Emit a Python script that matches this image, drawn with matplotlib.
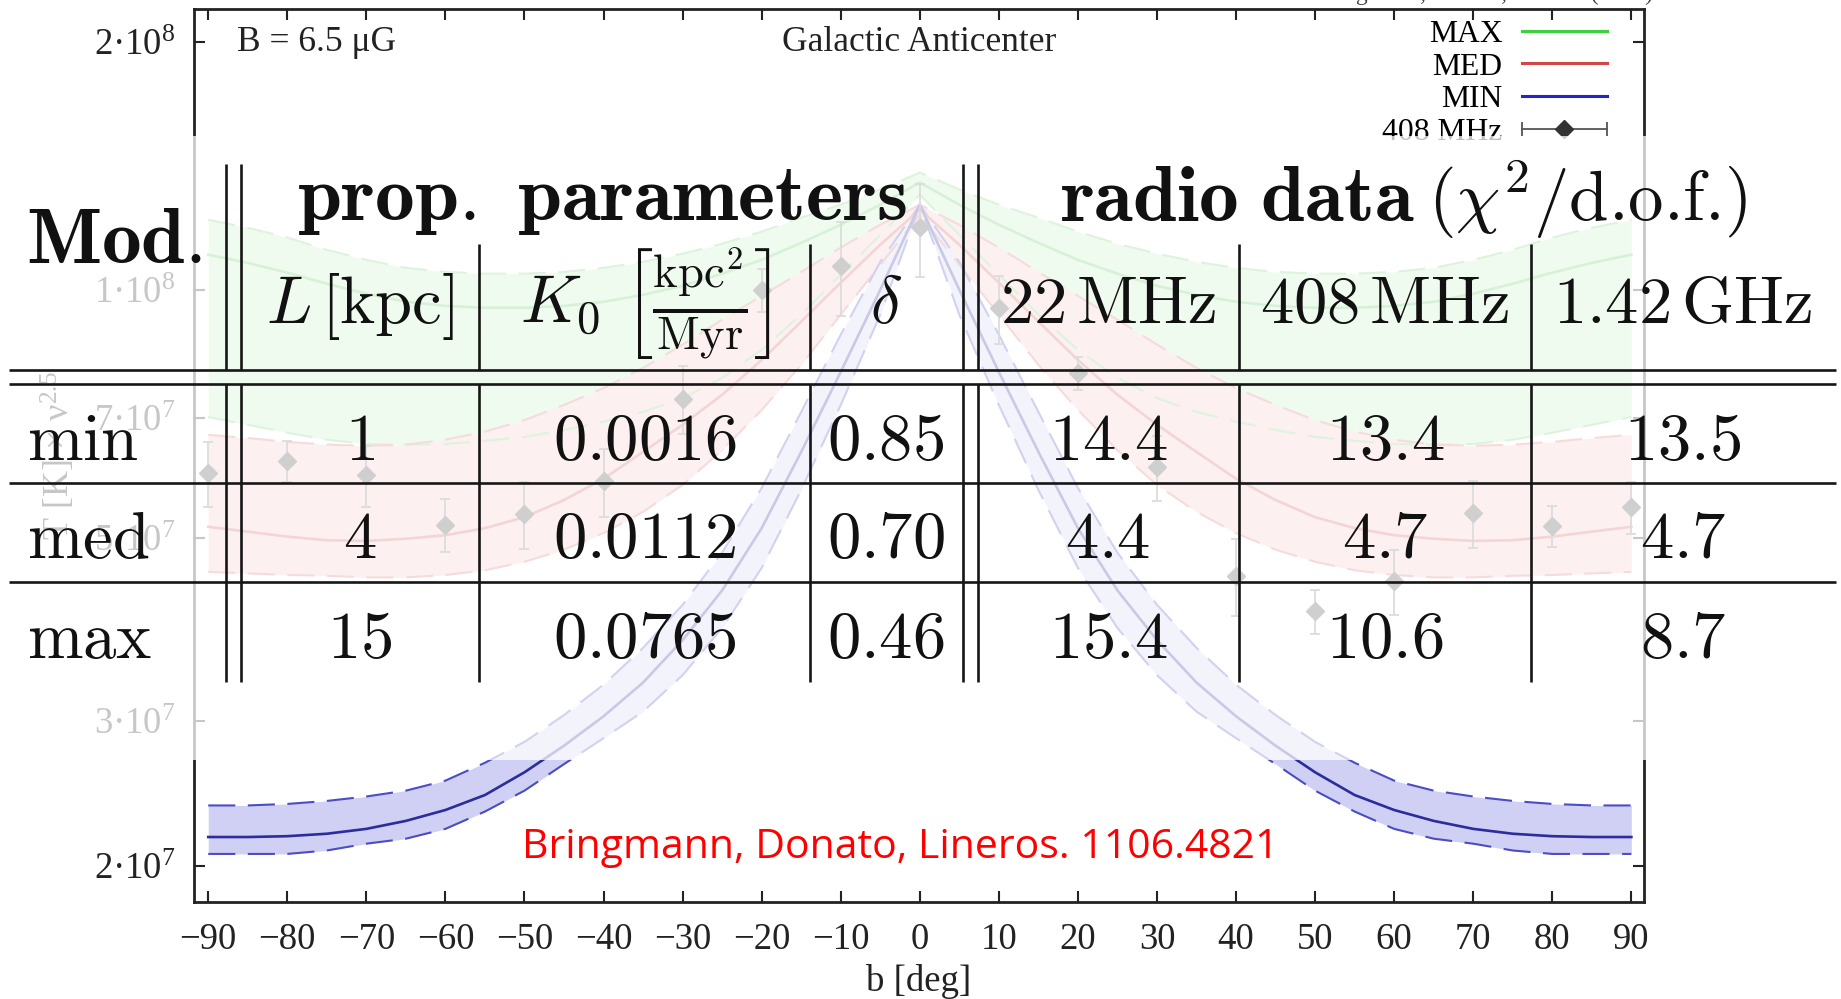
import numpy as np
import matplotlib.pyplot as plt
from matplotlib.lines import Line2D
from matplotlib.patches import Rectangle
from matplotlib.ticker import NullLocator
from matplotlib.legend_handler import HandlerLine2D, HandlerTuple

plt.rcParams['font.family'] = ['Liberation Serif', 'DejaVu Serif']
plt.rcParams['mathtext.fontset'] = 'custom'
plt.rcParams['mathtext.rm'] = 'Liberation Serif'
plt.rcParams['mathtext.it'] = 'Liberation Serif:italic'

# galactic latitude of the model curves [deg]
b = [-90, -85, -80, -75, -70, -65, -60, -55, -50, -45, -40, -35, -30, -25, -20, -15, -10, -5, 0,
     5, 10, 15, 20, 25, 30, 35, 40, 45, 50, 55, 60, 65, 70, 75, 80, 85, 90]

# model bands, T * nu^2.5 in units of 1e7
max_hi = [12.16, 11.89, 11.57, 11.18, 10.87, 10.63, 10.51, 10.46, 10.46, 10.51, 10.63, 10.81, 11.06, 11.37, 11.76, 12.23, 12.68, 13.23, 13.87,
          13.23, 12.68, 12.23, 11.76, 11.37, 11.06, 10.81, 10.63, 10.51, 10.46, 10.46, 10.51, 10.63, 10.87, 11.18, 11.57, 11.89, 12.16]
max_mid = [11.03, 10.78, 10.49, 10.17, 9.89, 9.67, 9.56, 9.51, 9.51, 9.56, 9.67, 9.86, 10.11, 10.46, 10.87, 11.40, 11.99, 12.68, 13.49,
           12.68, 11.99, 11.40, 10.87, 10.46, 10.11, 9.86, 9.67, 9.56, 9.51, 9.51, 9.56, 9.67, 9.89, 10.17, 10.49, 10.78, 11.03]
max_lo = [7.01, 6.86, 6.71, 6.58, 6.50, 6.49, 6.50, 6.56, 6.63, 6.76, 6.92, 7.11, 7.39, 7.82, 8.46, 9.33, 10.43, 11.66, 13.04,
          11.66, 10.43, 9.33, 8.46, 7.82, 7.39, 7.11, 6.92, 6.76, 6.63, 6.56, 6.50, 6.49, 6.50, 6.58, 6.71, 6.86, 7.01]

med_hi = [6.67, 6.61, 6.54, 6.49, 6.47, 6.49, 6.58, 6.73, 6.95, 7.25, 7.60, 8.04, 8.58, 9.20, 9.83, 10.51, 11.25, 11.99, 12.68,
          11.99, 11.25, 10.51, 9.83, 9.20, 8.58, 8.04, 7.60, 7.25, 6.95, 6.73, 6.58, 6.49, 6.47, 6.49, 6.54, 6.61, 6.67]
med_mid = [5.16, 5.09, 5.02, 4.97, 4.96, 4.99, 5.04, 5.14, 5.30, 5.56, 5.90, 6.36, 6.86, 7.46, 8.22, 9.15, 10.20, 11.34, 12.51,
           11.34, 10.20, 9.15, 8.22, 7.46, 6.86, 6.36, 5.90, 5.56, 5.30, 5.14, 5.04, 4.99, 4.96, 4.97, 5.02, 5.09, 5.16]
med_lo = [4.55, 4.53, 4.51, 4.50, 4.48, 4.48, 4.51, 4.57, 4.68, 4.84, 5.07, 5.38, 5.80, 6.39, 7.15, 8.11, 9.33, 10.72, 12.33,
          10.72, 9.33, 8.11, 7.15, 6.39, 5.80, 5.38, 5.07, 4.84, 4.68, 4.57, 4.51, 4.48, 4.48, 4.50, 4.51, 4.53, 4.55]

min_hi = [2.37, 2.37, 2.38, 2.40, 2.43, 2.47, 2.54, 2.67, 2.83, 3.05, 3.32, 3.68, 4.15, 4.80, 5.75, 7.11, 8.82, 10.81, 12.68,
          10.81, 8.82, 7.11, 5.75, 4.80, 4.15, 3.68, 3.32, 3.05, 2.83, 2.67, 2.54, 2.47, 2.43, 2.40, 2.38, 2.37, 2.37]
min_mid = [2.17, 2.17, 2.175, 2.19, 2.22, 2.27, 2.34, 2.44, 2.60, 2.80, 3.04, 3.34, 3.76, 4.32, 5.14, 6.36, 7.95, 10.0, 12.68,
           10.0, 7.95, 6.36, 5.14, 4.32, 3.76, 3.34, 3.04, 2.80, 2.60, 2.44, 2.34, 2.27, 2.22, 2.19, 2.175, 2.17, 2.17]
min_lo = [2.07, 2.07, 2.07, 2.09, 2.13, 2.16, 2.22, 2.33, 2.47, 2.66, 2.86, 3.08, 3.41, 3.89, 4.60, 5.72, 7.25, 9.33, 12.68,
          9.33, 7.25, 5.72, 4.60, 3.89, 3.41, 3.08, 2.86, 2.66, 2.47, 2.33, 2.22, 2.16, 2.13, 2.09, 2.07, 2.07, 2.07]

# 408 MHz data points (units of 1e7)
b_data = [-90, -80, -70, -60, -50, -40, -30, -20, -10, 0, 10, 20, 30, 40, 50, 60, 70, 80, 90]
t408 = [6.0, 6.2, 5.96, 5.19, 5.35, 5.86, 7.38, 10.0, 10.7, 11.9, 9.5, 7.93, 6.1, 4.5, 4.08, 4.43, 5.36, 5.17, 5.45]
t408_err = [0.54, 0.35, 0.5, 0.38, 0.5, 0.55, 0.7, 0.6, 1.4, 1.55, 0.9, 0.37, 0.55, 0.48, 0.25, 0.4, 0.5, 0.3, 0.4]

y_ticks = [2e7, 3e7, 5e7, 7e7, 1e8, 2e8]
y_ticklabels = ['2·10$^{7}$', '3·10$^{7}$', '5·10$^{7}$', '7·10$^{7}$', '1·10$^{8}$', '2·10$^{8}$']
x_ticks = [-90, -80, -70, -60, -50, -40, -30, -20, -10, 0, 10, 20, 30, 40, 50, 60, 70, 80, 90]

# table overlay content
tab_models = ['min', 'med', 'max']
tab_L = ['1', '4', '15']
tab_K0 = ['0.0016', '0.0112', '0.0765']
tab_delta = ['0.85', '0.70', '0.46']
tab_22 = ['14.4', '4.4', '15.4']
tab_408 = ['13.4', '4.7', '10.6']
tab_1420 = ['13.5', '4.7', '8.7']

W, H = 1841, 999
fig = plt.figure(figsize=(W / 100, H / 100), dpi=100)
fig.patch.set_facecolor('white')


def fx(px):
    return px / W


def fy(py):
    return 1 - py / H


ax = fig.add_axes([fx(194), fy(902), fx(1644) - fx(194), fy(9) - fy(902)])
ax.set_yscale('log')

bb = np.array(b)
sc = 1e7
models = [
    (max_lo, max_mid, max_hi, '#c6f0c6', '#62c862', '#7ad27a'),
    (med_lo, med_mid, med_hi, '#f5c6c6', '#d05a5a', '#dc7474'),
    (min_lo, min_mid, min_hi, '#d0d0f4', '#2c2c9c', '#4c4cc4'),
]
for lo, mid, hi, fc, lc, dc in models:
    lo = np.array(lo) * sc
    mid = np.array(mid) * sc
    hi = np.array(hi) * sc
    ax.fill_between(bb, lo, hi, color=fc, lw=0, zorder=1)
    ax.plot(bb, lo, color=dc, lw=1.5, ls=(0, (13, 6)), zorder=2)
    ax.plot(bb, hi, color=dc, lw=1.5, ls=(0, (13, 6)), zorder=2)
    ax.plot(bb, mid, color=lc, lw=1.9, zorder=3)

ax.errorbar(b_data, np.array(t408) * sc, yerr=np.array(t408_err) * sc, fmt='D',
            color='#444444', ms=9, ecolor='#777777', elinewidth=1.3, capsize=3.5,
            capthick=1.3, zorder=4)

ax.set_xlim(-91.8, 91.6)
ax.set_ylim(1.81e7, 2.19e8)
ax.set_xticks(x_ticks)
ax.set_yticks(y_ticks)
ax.set_yticklabels(y_ticklabels)
ax.yaxis.set_minor_locator(NullLocator())
ax.tick_params(axis='both', which='major', direction='in', length=8, width=1.5,
               top=True, right=True, labelsize=26.5, colors='#222222')
ax.tick_params(axis='x', pad=15)
ax.tick_params(axis='y', pad=13)
for s in ax.spines.values():
    s.set_linewidth(2)
    s.set_color('#222222')

ax.set_xlabel('b [deg]', fontsize=26.5, color='#222222')
ax.xaxis.label.set_va('center')
ax.xaxis.set_label_coords(0.5, -0.0885)
ax.set_ylabel('T [K] × ν$^{2.5}$', fontsize=26, color='#222222')
ax.yaxis.label.set_va('center')
ax.yaxis.set_label_coords(-0.093, 0.5)

ax.text(0.0297, 0.962, 'B = 6.5 μG', transform=ax.transAxes, fontsize=25.5,
        ha='left', va='center', color='#222222')
ax.text(0.5, 0.963, 'Galactic Anticenter', transform=ax.transAxes, fontsize=25.5,
        ha='center', va='center', color='#222222')

h_max = Line2D([], [], color='#3fcf3f', lw=2.2)
h_med = Line2D([], [], color='#d04848', lw=2.2)
h_min = Line2D([], [], color='#2424cc', lw=2.2)
h_bar = Line2D([], [], color='#555555', lw=1.3, marker='|', markersize=10, markeredgewidth=1.3)
h_dot = Line2D([], [], ls='none', marker='D', color='#333333', markersize=9)
ax.legend([h_max, h_med, h_min, (h_bar, h_dot)], ['MAX', 'MED', 'MIN', '408 MHz'],
          handler_map={tuple: HandlerTuple(ndivide=1),
                       h_bar: HandlerLine2D(numpoints=2, marker_pad=0),
                       h_dot: HandlerLine2D(numpoints=1)},
          loc='upper right', bbox_to_anchor=(0.9745, 0.988), borderaxespad=0, borderpad=0,
          frameon=False, markerfirst=False, fontsize=22.8, labelspacing=0.11,
          handlelength=2.7, handletextpad=0.6)

fig.text(fx(1483), fy(0), 'Bringmann, Donato, Lineros (2011)', ha='center', va='baseline',
         fontsize=17, color='#444444')

# translucent white panel with the table
fig.patches.append(Rectangle((0, fy(760)), 1, fy(136) - fy(760), transform=fig.transFigure,
                             facecolor='white', alpha=0.75, edgecolor='none', zorder=5))

lk = dict(color='#161616', lw=1.9, zorder=6, transform=fig.transFigure, solid_capstyle='butt')
for y in [369.5, 383.5, 482.5, 582]:
    fig.lines.append(Line2D([fx(9), fx(1836)], [fy(y), fy(y)], **lk))
for x in [225.5, 240.5, 963, 978]:
    fig.lines.append(Line2D([fx(x), fx(x)], [fy(164), fy(369.5)], **lk))
    fig.lines.append(Line2D([fx(x), fx(x)], [fy(383.5), fy(682)], **lk))
for x in [479, 810, 1239, 1531]:
    fig.lines.append(Line2D([fx(x), fx(x)], [fy(244), fy(369.5)], **lk))
    fig.lines.append(Line2D([fx(x), fx(x)], [fy(383.5), fy(682)], **lk))

tk = dict(math_fontfamily='cm', color='#111111', zorder=7, va='baseline')
fig.text(fx(26), fy(263), r'$\mathbf{Mod{.}}$', ha='left', fontsize=57, **tk)
fig.text(fx(602), fy(220), r'$\mathbf{prop{.}\ parameters}$', ha='center', fontsize=57, **tk)
fig.text(fx(1415), fy(221), r'$\mathbf{radio\ data}$', ha='right', fontsize=57, **tk)
fig.text(fx(1587), fy(221), r'$(\chi^2/$d.o.f.)', ha='center', fontsize=51,
         family='cmr10', **tk)
col_x = [360, 645, 886, 1108, 1385, 1683]
heads = [r'$L\,[\mathrm{kpc}]$', r'$K_0\ \left[\frac{\mathrm{kpc}^2}{\mathrm{Myr}}\right]$',
         r'$\delta$', r'$\mathrm{22\,MHz}$', r'$\mathrm{408\,MHz}$', r'$\mathrm{1.42\,GHz}$']
for x, h in zip(col_x, heads):
    fig.text(fx(x), fy(323), h, ha='center', fontsize=48, **tk)
row_y = [460, 558, 658]
for i, y in enumerate(row_y):
    fig.text(fx(27), fy(y), r'$\mathrm{%s}$' % tab_models[i], ha='left', fontsize=48, **tk)
    vals = [tab_L[i], tab_K0[i], tab_delta[i], tab_22[i], tab_408[i], tab_1420[i]]
    for x, v in zip(col_x, vals):
        fig.text(fx(x), fy(y), r'$\mathrm{%s}$' % v, ha='center', fontsize=48, **tk)

fig.text(fx(900), fy(858), 'Bringmann, Donato, Lineros. 1106.4821', ha='center', va='baseline',
         fontsize=29.5, color='#ff0000', family='Open Sans', zorder=8)

fig.savefig('out.png', dpi=100)
